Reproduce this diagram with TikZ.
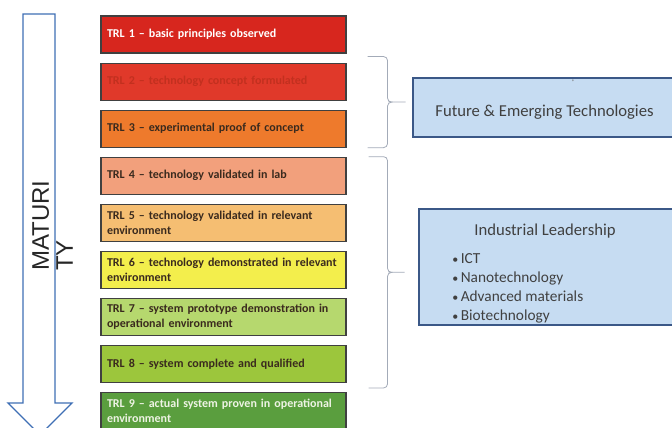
\documentclass[tikz,border=0pt]{standalone}
\usepackage{fontspec}
\setmainfont{Carlito}
\newfontfamily\maturityfont{Liberation Sans}
\usetikzlibrary{positioning,calc}

\definecolor{trlone}{HTML}{D7261E}
\definecolor{trltwo}{HTML}{E0392A}
\definecolor{trlthree}{HTML}{EE7A2C}
\definecolor{trlfour}{HTML}{F2A07C}
\definecolor{trlfive}{HTML}{F5BE72}
\definecolor{trlsix}{HTML}{F3EE4C}
\definecolor{trlseven}{HTML}{B6D86E}
\definecolor{trleight}{HTML}{9CC63C}
\definecolor{trlnine}{HTML}{5A9E3E}
\definecolor{trltwotext}{HTML}{C2301F}
\definecolor{darktext}{HTML}{3A2A1E}
\definecolor{lighttext}{HTML}{EEF3E4}
\definecolor{techfill}{HTML}{C6DCF2}
\definecolor{techdraw}{HTML}{3B5887}
\definecolor{bracegray}{HTML}{A3ABB8}
\definecolor{arrowblue}{HTML}{3F6FB5}

\tikzset{
  trlbox/.style={draw=black!75, line width=0.8pt, minimum width=183.75pt,
    minimum height=27.75pt, text width=174.75pt, inner xsep=4.5pt,
    align=left, font=\fontsize{9}{11}\selectfont\bfseries},
  techbox/.style={draw=techdraw, fill=techfill, line width=1pt},
  techtext/.style={text=black!75, font=\fontsize{12.5}{15}\selectfont},
  bracket/.style={draw=bracegray, line width=0.6pt, rounded corners=3pt}
}

\begin{document}
\begin{tikzpicture}[x=0.75pt, y=0.75pt, node distance=6.75pt]
  \useasboundingbox (0,0) rectangle (672,428);
  \clip (0,0) rectangle (672,428);

  % The maturity arrow down the left side
  \draw [arrowblue, line width=1pt, fill=white] (23,414) -- (55,414) -- (55,25) -- (72,25)
    -- (40,-7) -- (8,25) -- (23,25) -- cycle;
  \node [rotate=90, anchor=west, inner sep=0, align=left, text=black!85,
    font=\maturityfont\fontsize{18}{18}\selectfont] (maturity) at (52.5,157) {MATURI\\TY};

  % The nine readiness levels
  \node [trlbox, fill=trlone, text=white] (trl1) at (223.5,393.5) {TRL 1 -- basic principles observed};
  \foreach \i/\j/\fillcol/\txtcol/\lab in {
    2/1/trltwo/trltwotext/{TRL 2 -- technology concept formulated},
    3/2/trlthree/darktext/{TRL 3 -- experimental proof of concept},
    4/3/trlfour/darktext/{TRL 4 -- technology validated in lab},
    5/4/trlfive/darktext/{TRL 5 -- technology validated in relevant\\environment},
    6/5/trlsix/darktext/{TRL 6 -- technology demonstrated in relevant\\environment},
    7/6/trlseven/darktext/{TRL 7 -- system prototype demonstration in\\operational environment},
    8/7/trleight/darktext/{TRL 8 -- system complete and qualified},
    9/8/trlnine/lighttext/{TRL 9 -- actual system proven in operational\\environment}} {
    \node [trlbox, fill=\fillcol, text=\txtcol, below=of trl\j] (trl\i) {\lab};
  }

  % Braces grouping the levels
  \coordinate (fettop) at ($(trl2.north east)+(21,6)$);
  \coordinate (fetbot) at ($(trl3.south east)+(21,0)$);
  \coordinate (fettip) at ($(fettop)!0.5!(fetbot)+(25,0)$);
  \draw [bracket] (fettop) -- ++(20,0) |- (fettip) -- ++(13,0);
  \draw [bracket] (fetbot) -- ++(20,0) |- (fettip);

  \coordinate (indtop) at ($(trl4.north east)+(22,0)$);
  \coordinate (indbot) at ($(trl8.south east)+(22,-5)$);
  \coordinate (indtip) at ($(indtop)!0.5!(indbot)+(24,0)$);
  \draw [bracket] (indtop) -- ++(19,0) |- (indtip) -- ++(12,0);
  \draw [bracket] (indbot) -- ++(19,0) |- (indtip);

  % Programme boxes
  \node [techbox, minimum width=210pt, minimum height=44.25pt] (fetbox) at (553,320.5) {};
  \node [techtext] (fettext) at (544.5,316) {Future \& Emerging Technologies};
  \node [text=black!55, font=\fontsize{5}{5}\selectfont] (fetmark) at (573,346) {*};

  \node [techbox, minimum width=210.75pt, minimum height=87pt] (indbox) at (559.5,161) {};
  \node [techtext] (indhead) at (545,197) {Industrial Leadership};
  \node [techtext, font=\fontsize{11.5}{14.25}\selectfont, align=left, anchor=west, inner sep=0]
    (indlist) at (452,140) {{\small\textbullet}\,ICT\\{\small\textbullet}\,Nanotechnology\\
    {\small\textbullet}\,Advanced materials\\{\small\textbullet}\,Biotechnology};
\end{tikzpicture}
\end{document}
